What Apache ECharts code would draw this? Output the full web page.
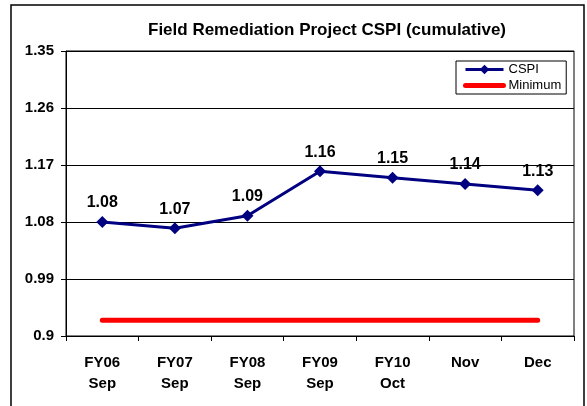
<!DOCTYPE html>
<html>
<head>
<meta charset="utf-8">
<script src="https://cdn.jsdelivr.net/npm/echarts@6/dist/echarts.min.js"></script>
<style>
  html, body { margin: 0; padding: 0; background: #fff; }
  #main { width: 587px; height: 406px; }
</style>
</head>
<body>
<div id="main"></div>
<script>
// data
var categories = ['FY06\nSep', 'FY07\nSep', 'FY08\nSep', 'FY09\nSep', 'FY10\nOct', 'Nov', 'Dec'];
var cspi = [1.08, 1.07, 1.09, 1.16, 1.15, 1.14, 1.13];
var minimum = [0.925, 0.925, 0.925, 0.925, 0.925, 0.925, 0.925];
var yTicks = { min: 0.9, max: 1.35, step: 0.09 };

var font = 'Liberation Sans, Arial, sans-serif';

var chart = echarts.init(document.getElementById('main'));

var option = {
  backgroundColor: '#fff',
  animation: false,
  title: {
    text: 'Field Remediation Project CSPI (cumulative)',
    left: 148,
    top: 22,
    padding: 0,
    textStyle: { fontFamily: font, fontSize: 17, fontWeight: 'bold', color: '#000' }
  },
  // outer frame of the chart
  graphic: [{
    type: 'rect',
    shape: { x: 11, y: 5, width: 573, height: 420 },
    style: { fill: 'none', stroke: '#000', lineWidth: 1.5 },
    silent: true
  }],
  legend: {
    orient: 'vertical',
    left: 456,
    top: 61,
    padding: [2, 5, 2, 7],
    itemGap: 3,
    itemWidth: 38,
    itemHeight: 12,
    backgroundColor: '#fff',
    borderColor: '#000',
    borderWidth: 1,
    textStyle: { fontFamily: font, fontSize: 13, color: '#000' },
    data: [
      { name: 'CSPI', lineStyle: { width: 3 } },
      { name: 'Minimum', itemStyle: { opacity: 0 }, lineStyle: { width: 5, cap: 'round' } }
    ]
  },
  grid: {
    left: 66, right: 13, top: 51, bottom: 70,
    show: true,
    borderColor: '#000',
    borderWidth: 1,
    containLabel: false
  },
  xAxis: {
    type: 'category',
    data: categories,
    boundaryGap: true,
    axisLine: { lineStyle: { color: '#000', width: 1 } },
    axisTick: { show: true, length: 5, lineStyle: { color: '#000' } },
    axisLabel: {
      margin: 16,
      fontFamily: font, fontSize: 15, fontWeight: 'bold', color: '#000',
      lineHeight: 21
    }
  },
  yAxis: {
    type: 'value',
    min: yTicks.min,
    max: yTicks.max,
    interval: yTicks.step,
    axisLine: { show: true, lineStyle: { color: '#000', width: 1 } },
    axisTick: { show: true, length: 5, lineStyle: { color: '#000' } },
    splitLine: { show: true, lineStyle: { color: '#000', width: 1 } },
    axisLabel: {
      margin: 12,
      fontFamily: font, fontSize: 15, fontWeight: 'bold', color: '#000',
      formatter: function (v) { return String(parseFloat(v.toFixed(2))); }
    }
  },
  series: [
    {
      name: 'CSPI',
      type: 'line',
      data: cspi,
      color: '#000080',
      symbol: 'diamond',
      symbolSize: 12,
      lineStyle: { width: 3, color: '#000080' },
      itemStyle: { color: '#000080' },
      label: {
        show: true,
        position: 'top',
        distance: 5,
        fontFamily: font, fontSize: 16, fontWeight: 'bold', color: '#000',
        formatter: function (p) { return p.value.toFixed(2); }
      },
      z: 3
    },
    {
      name: 'Minimum',
      type: 'line',
      data: minimum,
      color: '#ff0000',
      showSymbol: false,
      symbol: 'none',
      lineStyle: { width: 5, color: '#ff0000', cap: 'round' },
      z: 2
    }
  ]
};

chart.setOption(option);
</script>
</body>
</html>
